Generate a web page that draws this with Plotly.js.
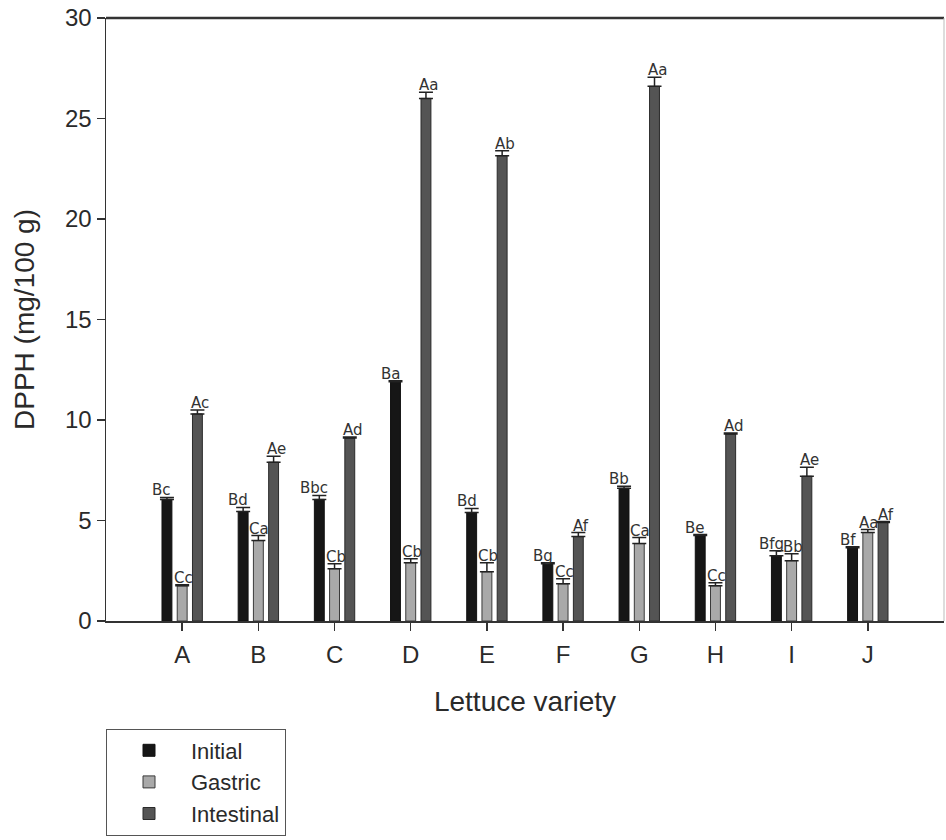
<!DOCTYPE html>
<html>
<head>
<meta charset="utf-8">
<script src="https://cdn.plot.ly/plotly-3.0.1.min.js"></script>
<style>html,body{margin:0;padding:0;background:#fff;}#chart{width:946px;height:840px;}</style>
</head>
<body>
<div id="chart"></div>
<script>
const categories = ['A','B','C','D','E','F','G','H','I','J'];
const initial = [6.05, 5.45, 6.05, 11.9, 5.4, 2.85, 6.6, 4.25, 3.25, 3.65];
const initialErr = [0.1, 0.2, 0.2, 0.05, 0.2, 0.05, 0.1, 0.05, 0.25, 0.05];
const gastric = [1.75, 4.0, 2.6, 2.9, 2.45, 1.85, 3.85, 1.75, 3.0, 4.4];
const gastricErr = [0.05, 0.25, 0.25, 0.2, 0.45, 0.25, 0.3, 0.15, 0.35, 0.15];
const intestinal = [10.3, 7.9, 9.1, 26.0, 23.15, 4.2, 26.6, 9.3, 7.2, 4.9];
const intestinalErr = [0.2, 0.3, 0.05, 0.3, 0.25, 0.2, 0.45, 0.05, 0.45, 0.05];
const initialLabels = ['Bc','Bd','Bbc','Ba','Bd','Bg','Bb','Be','Bfg','Bf'];
const gastricLabels = ['Cc','Ca','Cb','Cb','Cb','Cc','Ca','Cc','Bb','Aa'];
const intestinalLabels = ['Ac','Ae','Ad','Aa','Ab','Af','Aa','Ad','Ae','Af'];
const yTicks = [0, 5, 10, 15, 20, 25, 30];

const idx = categories.map((c, i) => i);
const bargap = 0.4;
const slot = (1 - bargap) / 3;

const seriesDefs = [
  {name: 'Initial', y: initial, err: initialErr, labels: initialLabels, fill: '#161616', line: '#111111', shift: -5},
  {name: 'Gastric', y: gastric, err: gastricErr, labels: gastricLabels, fill: '#a9a9a9', line: '#3a3a3a', shift: 1},
  {name: 'Intestinal', y: intestinal, err: intestinalErr, labels: intestinalLabels, fill: '#545454', line: '#2a2a2a', shift: 3}
];

const traces = seriesDefs.map((s, k) => ({
  type: 'bar',
  name: s.name,
  x: idx,
  y: s.y,
  marker: {color: s.fill, line: {color: s.line, width: 1}},
  error_y: {type: 'data', symmetric: false, array: s.err, arrayminus: s.err.map(() => 0),
            color: '#222222', thickness: 1.5, width: 7},
  hoverinfo: 'x+y'
}));

const annotations = [];
seriesDefs.forEach((s, k) => {
  s.y.forEach((v, i) => {
    annotations.push({
      x: i + (k - 1) * slot,
      y: v + s.err[i],
      xref: 'x', yref: 'y',
      text: s.labels[i],
      showarrow: false,
      yanchor: 'bottom',
      xanchor: 'center',
      xshift: s.shift,
      yshift: -3,
      borderpad: 0,
      font: {family: 'DejaVu Sans, sans-serif', size: 15, color: '#333333'}
    });
  });
});

const layout = {
  width: 946, height: 840,
  margin: {l: 106, r: 2, t: 18, b: 219},
  paper_bgcolor: '#ffffff',
  plot_bgcolor: '#ffffff',
  barmode: 'group',
  bargap: bargap,
  bargroupgap: 0.35,
  font: {family: 'Liberation Sans, Arial, sans-serif', color: '#2a2a2a'},
  xaxis: {
    type: 'linear',
    range: [-1, 10],
    tickvals: idx,
    ticktext: categories,
    showgrid: false, zeroline: false,
    showline: true, linecolor: '#333333', linewidth: 1.5,
    ticks: 'outside', ticklen: 8, tickwidth: 1.5, tickcolor: '#333333',
    ticklabelstandoff: 4,
    tickfont: {size: 24, color: '#2a2a2a'},
    title: {text: 'Lettuce variety', font: {size: 28, color: '#2a2a2a'}, standoff: 24}
  },
  yaxis: {
    range: [0, 30],
    tickvals: yTicks,
    showgrid: false, zeroline: false,
    showline: true, linecolor: '#333333', linewidth: 1.5,
    ticks: 'outside', ticklen: 8, tickwidth: 1.5, tickcolor: '#333333',
    tickfont: {size: 24, color: '#2a2a2a'},
    title: {text: 'DPPH (mg/100 g)', font: {size: 28, color: '#2a2a2a'}, standoff: 22}
  },
  showlegend: true,
  legend: {
    x: 0, xanchor: 'left', y: -0.267, yanchor: 'middle',
    bordercolor: '#555555', borderwidth: 1, bgcolor: '#ffffff',
    font: {size: 22, color: '#2a2a2a'},
    traceorder: 'normal',
    itemwidth: 74,
    entrywidth: 200
  },
  shapes: [
    {type: 'line', xref: 'paper', yref: 'paper', x0: 0, x1: 1, y0: 1, y1: 1, line: {color: '#333333', width: 2.5}},
    {type: 'line', xref: 'paper', yref: 'paper', x0: 1, x1: 1, y0: 0, y1: 1, line: {color: '#bbbbbb', width: 1}}
  ],
  annotations: annotations
};

Plotly.newPlot('chart', traces, layout, {displayModeBar: false, staticPlot: true});
</script>
</body>
</html>
